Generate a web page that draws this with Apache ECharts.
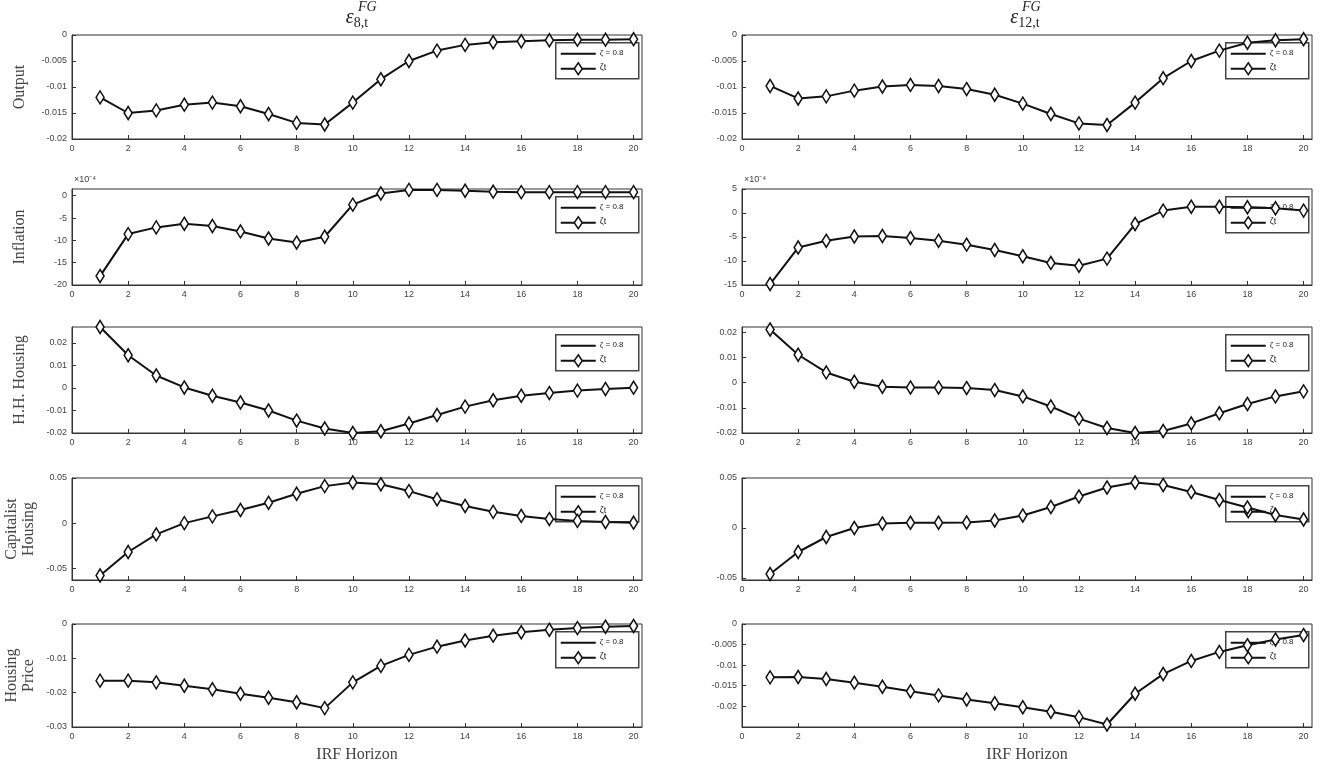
<!DOCTYPE html>
<html><head><meta charset="utf-8">
<script src="https://cdn.jsdelivr.net/npm/echarts@6/dist/echarts.min.js"></script>
<style>html,body{margin:0;background:#fff}#c{width:1320px;height:762px}</style>
</head><body><div id="c"></div>
<script>
var horizon = [1,2,3,4,5,6,7,8,9,10,11,12,13,14,15,16,17,18,19,20];
var xTicks = [0,2,4,6,8,10,12,14,16,18,20];

// left column: eps_8,t ; right column: eps_12,t
var outputL = [-0.012,-0.015,-0.0145,-0.0134,-0.013,-0.0137,-0.0152,-0.0169,-0.0172,-0.013,-0.0085,-0.005,-0.003,-0.0019,-0.0014,-0.0012,-0.001,-0.0009,-0.0009,-0.0008];
var outputR = [-0.0098,-0.0122,-0.0118,-0.0107,-0.0099,-0.0096,-0.0098,-0.0104,-0.0115,-0.0132,-0.0152,-0.017,-0.0173,-0.013,-0.0083,-0.005,-0.003,-0.0015,-0.001,-0.0008];
var inflL = [-18,-8.6,-7.1,-6.3,-6.8,-8,-9.6,-10.5,-9.2,-2,0.5,1.3,1.3,1.1,0.9,0.8,0.8,0.8,0.8,0.8];
var inflR = [-14.8,-7.2,-5.8,-4.9,-4.8,-5.2,-5.8,-6.6,-7.7,-9,-10.4,-11,-9.5,-2.3,0.5,1.3,1.3,1.2,1.0,0.5];
var hhL = [0.027,0.0145,0.0055,0.0002,-0.0035,-0.0065,-0.01,-0.0145,-0.018,-0.02,-0.0192,-0.0158,-0.012,-0.0083,-0.0055,-0.0035,-0.0023,-0.0012,-0.0005,0.0001];
var hhR = [0.021,0.011,0.004,0.0003,-0.0017,-0.002,-0.002,-0.0022,-0.003,-0.0055,-0.0095,-0.0143,-0.018,-0.02,-0.0192,-0.0162,-0.0122,-0.0085,-0.0055,-0.0035];
var capL = [-0.058,-0.032,-0.0125,0,0.0075,0.0145,0.0225,0.0325,0.041,0.045,0.043,0.0355,0.0265,0.019,0.0125,0.008,0.0045,0.0025,0.0012,0.0005];
var capR = [-0.046,-0.024,-0.009,0,0.0045,0.0052,0.0052,0.0055,0.0075,0.0125,0.021,0.0315,0.0405,0.0455,0.043,0.036,0.028,0.0205,0.013,0.0085];
var priceL = [-0.0165,-0.0165,-0.017,-0.018,-0.019,-0.0203,-0.0215,-0.0228,-0.0245,-0.017,-0.0122,-0.009,-0.0066,-0.0048,-0.0034,-0.0024,-0.0017,-0.0012,-0.0008,-0.0006];
var priceR = [-0.013,-0.0129,-0.0134,-0.0143,-0.0153,-0.0164,-0.0174,-0.0184,-0.0193,-0.0203,-0.0214,-0.0227,-0.0245,-0.017,-0.0122,-0.009,-0.0068,-0.0052,-0.0038,-0.0027];

var rowNames = ['Output','Inflation','H.H. Housing','Capitalist\nHousing','Housing\nPrice'];
var rows = [
  {top:35, bottom:139, L:{d:outputL,min:-0.02,max:0,t:[-0.02,-0.015,-0.01,-0.005,0]}, R:{d:outputR,min:-0.02,max:0,t:[-0.02,-0.015,-0.01,-0.005,0]}},
  {top:189,bottom:285, L:{d:inflL,min:-20,max:1.5,t:[-20,-15,-10,-5,0],e:1}, R:{d:inflR,min:-15,max:5,t:[-15,-10,-5,0,5],e:1}},
  {top:327,bottom:433, L:{d:hhL,min:-0.02,max:0.027,t:[-0.02,-0.01,0,0.01,0.02]}, R:{d:hhR,min:-0.02,max:0.022,t:[-0.02,-0.01,0,0.01,0.02]}},
  {top:478,bottom:580, L:{d:capL,min:-0.063,max:0.05,t:[-0.05,0,0.05]}, R:{d:capR,min:-0.052,max:0.05,t:[-0.05,0,0.05]}},
  {top:624,bottom:727, L:{d:priceL,min:-0.03,max:0,t:[-0.03,-0.02,-0.01,0]}, R:{d:priceR,min:-0.0251,max:0,t:[-0.02,-0.015,-0.01,-0.005,0]}}
];
var cols = [{key:'L',left:72,right:642},{key:'R',left:742,right:1312}];

var grid=[],xAxis=[],yAxis=[],series=[],graphic=[];
var lab = {fontSize:9,color:'#444',fontFamily:'Liberation Sans'};
function fmt(v){return String(Number(v.toPrecision(6)));}

rows.forEach(function(r,ri){
  cols.forEach(function(c){
    var p=r[c.key], i=grid.length;
    grid.push({left:c.left,width:c.right-c.left,top:r.top,height:r.bottom-r.top,show:true,borderColor:'#333',borderWidth:1,backgroundColor:'#fff'});
    xAxis.push({type:'value',gridIndex:i,min:0,max:20.3,
      axisLine:{onZero:false,lineStyle:{color:'#333'}},splitLine:{show:false},
      axisTick:{inside:true,length:4,customValues:xTicks,lineStyle:{color:'#333'}},
      axisLabel:Object.assign({customValues:xTicks,margin:5},lab)});
    yAxis.push({type:'value',gridIndex:i,min:p.min,max:p.max,
      axisLine:{show:true,onZero:false,lineStyle:{color:'#333'}},splitLine:{show:false},
      axisTick:{inside:true,length:4,customValues:p.t,lineStyle:{color:'#333'}},
      axisLabel:Object.assign({customValues:p.t,margin:5,formatter:fmt},lab)});
    series.push({type:'line',xAxisIndex:i,yAxisIndex:i,
      data:horizon.map(function(h,k){return [h,p.d[k]];}),
      lineStyle:{color:'#111',width:2},symbol:'diamond',symbolSize:[8,13],
      itemStyle:{color:'#fff',borderColor:'#111',borderWidth:1.6},animation:false,z:2});
    if(p.e) graphic.push({type:'text',left:c.left+2,top:r.top-14,style:{text:'×10⁻⁴',fontSize:9,fill:'#444',fontFamily:'Liberation Sans'}});
    // legend box
    var bx=c.right-87, by=r.top+7;
    graphic.push({type:'group',left:bx,top:by,zlevel:1,children:[
      {type:'rect',shape:{x:0,y:0,width:83,height:36},style:{fill:'#fff',stroke:'#444',lineWidth:1.5}},
      {type:'line',shape:{x1:5,y1:11,x2:40,y2:11},style:{stroke:'#111',lineWidth:2}},
      {type:'text',x:44,y:6,style:{text:'ζ = 0.8',fontSize:8,fill:'#222',fontFamily:'Liberation Sans'}},
      {type:'line',shape:{x1:5,y1:26,x2:40,y2:26},style:{stroke:'#111',lineWidth:2}},
      {type:'polygon',shape:{points:[[22.5,20],[26.5,26],[22.5,32],[18.5,26]]},style:{fill:'#fff',stroke:'#111',lineWidth:1.5}},
      {type:'text',x:44,y:20,style:{text:'ζt',fontSize:9,fill:'#222',fontFamily:'Liberation Sans'}}
    ]});
  });
  graphic.push({type:'text',x:20,y:(r.top+r.bottom)/2,rotation:Math.PI/2,
    style:{text:rowNames[ri],fontSize:16,fill:'#444',fontFamily:'Liberation Serif',align:'center',verticalAlign:'middle',lineHeight:17}});
});

var serif='Liberation Serif';
var titleRich={e:{fontSize:20,fontStyle:'italic',fontFamily:serif,fill:'#222'},s:{fontSize:14,fontFamily:serif,fill:'#222',padding:[10,0,0,0]}};
graphic.push({type:'text',x:357,y:18,style:{rich:titleRich,text:'{e|ε}{s|8,t}',align:'center',verticalAlign:'middle'}});
graphic.push({type:'text',x:358,y:0,style:{text:'FG',fontSize:14,fontStyle:'italic',fontFamily:serif,fill:'#222'}});
graphic.push({type:'text',x:1025,y:18,style:{rich:titleRich,text:'{e|ε}{s|12,t}',align:'center',verticalAlign:'middle'}});
graphic.push({type:'text',x:1022,y:0,style:{text:'FG',fontSize:14,fontStyle:'italic',fontFamily:serif,fill:'#222'}});
graphic.push({type:'text',x:357,y:755,style:{text:'IRF Horizon',fontSize:16,fill:'#444',fontFamily:serif,align:'center',verticalAlign:'middle'}});
graphic.push({type:'text',x:1027,y:755,style:{text:'IRF Horizon',fontSize:16,fill:'#444',fontFamily:serif,align:'center',verticalAlign:'middle'}});

var chart=echarts.init(document.getElementById('c'));
chart.setOption({animation:false,grid:grid,xAxis:xAxis,yAxis:yAxis,series:series,graphic:graphic});
</script></body></html>
